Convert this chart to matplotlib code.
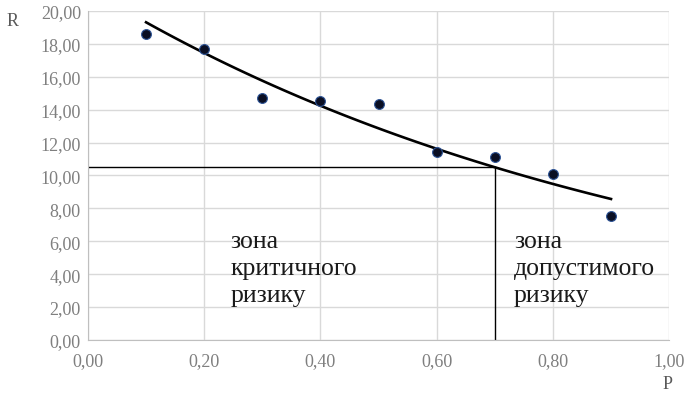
import numpy as np
import matplotlib.pyplot as plt

p = [0.1, 0.2, 0.3, 0.4, 0.5, 0.6, 0.7, 0.8, 0.9]
r = [18.6, 17.68, 14.7, 14.5, 14.33, 11.4, 11.1, 10.06, 7.56]
p_limit = 0.7
xticks = [0.0, 0.2, 0.4, 0.6, 0.8, 1.0]
yticks = [0, 2, 4, 6, 8, 10, 12, 14, 16, 18, 20]
zone_left = ['зона', 'критичного', 'ризику']
zone_right = ['зона', 'допустимого', 'ризику']

plt.rcParams['font.family'] = ['Liberation Serif', 'DejaVu Serif']

# exponential trendline, fitted like Excel does
b, ln_a = np.polyfit(p, np.log(r), 1)
px = np.linspace(min(p), max(p), 100)
r_limit = np.exp(ln_a + b * p_limit)

fig = plt.figure(figsize=(6.87, 4.02), dpi=100)
ax = fig.add_axes([0.128, 0.152, 0.846, 0.818])

ax.plot(px, np.exp(ln_a + b * px), color='black', lw=1.9, zorder=3)
ax.scatter(p, r, s=50, color='#0a0f24', edgecolors='#2f5597', linewidths=0.8, zorder=4)

ax.plot([0, p_limit], [r_limit, r_limit], color='black', lw=1.0, zorder=2)
ax.plot([p_limit, p_limit], [0, r_limit], color='black', lw=1.0, zorder=2)

ax.set_xlim(0, 1)
ax.set_ylim(0, 20)
ax.set_xticks(xticks)
ax.set_yticks(yticks)
ax.set_xticklabels([f'{v:.2f}'.replace('.', ',') for v in xticks])
ax.set_yticklabels([f'{v:.2f}'.replace('.', ',') for v in yticks])
ax.tick_params(colors='#7f7f7f', labelsize=13, length=0)
ax.tick_params(axis='y', pad=5)
ax.tick_params(axis='x', pad=9)
ax.grid(True, color='#d9d9d9', lw=1.0)
ax.set_axisbelow(True)
for s in ['top', 'right']:
    ax.spines[s].set_visible(False)
for s in ['left', 'bottom']:
    ax.spines[s].set_color('#bfbfbf')

fig.text(7 / 687, 1 - 22 / 402, 'R', fontsize=13, color='#595959', va='center')
fig.text(663 / 687, 1 - 385 / 402, 'P', fontsize=13, color='#595959', va='center')

# zone captions, one line at a time
for i, (a, c) in enumerate(zip(zone_left, zone_right)):
    y = 5.67 - 1.645 * i
    ax.text(0.245, y, a, fontsize=18.5, color='#1a1a1a', va='baseline', ha='left')
    ax.text(0.733, y, c, fontsize=18.5, color='#1a1a1a', va='baseline', ha='left')

fig.savefig('out.png', dpi=100)
